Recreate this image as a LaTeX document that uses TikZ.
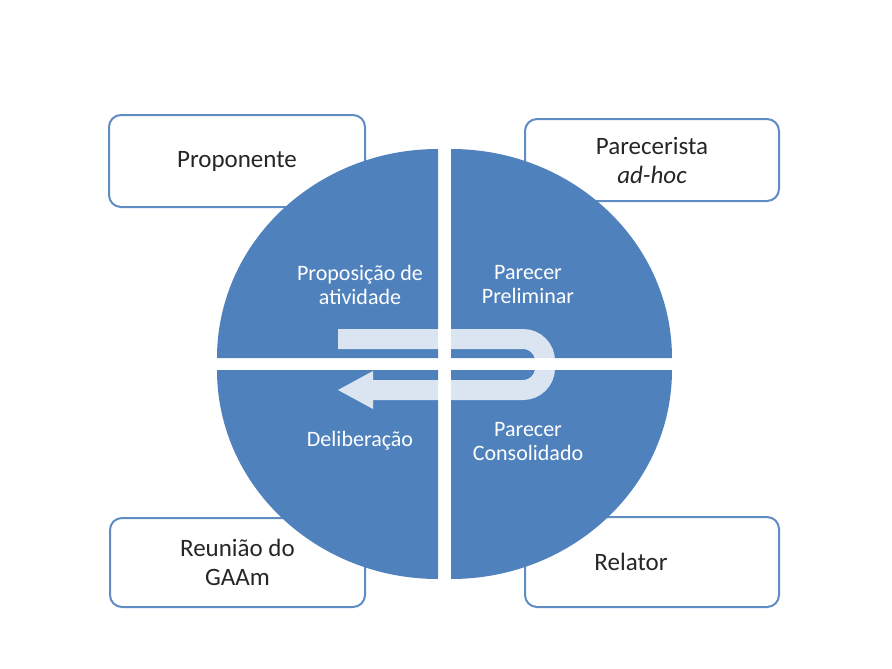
\documentclass[tikz,border=0pt]{standalone}
\usepackage{fontspec}
\setmainfont{Carlito}
\usepackage{xcolor}
\usetikzlibrary{arrows.meta}
\definecolor{quadblue}{RGB}{79,129,189}
\definecolor{boxline}{RGB}{96,140,198}

\begin{document}
\begin{tikzpicture}[
    x=1pt, y=-1pt,
    rolebox/.style={draw=boxline, line width=2pt, rounded corners=12pt, fill=white, align=center, text=black!85, font=\fontsize{25}{29}\selectfont},
    boxtext/.style={text=black!85, font=\fontsize{25}{29}\selectfont},
    quad/.style={fill=quadblue},
    quadtext/.style={text=white, align=center, font=\fontsize{22}{24}\selectfont},
    turn/.style={white, opacity=0.8}
]

\useasboundingbox (0,0) rectangle (892,669);

% Boxes :
\node[rolebox, minimum width=256pt, minimum height=92pt] (prop) at (237,161) {Proponente};
\node[rolebox, minimum width=254pt, minimum height=82pt] (parec) at (652,160) {Parecerista\\\textit{ad-hoc}};
\node[rolebox, minimum width=255pt, minimum height=89pt] (reun) at (237.5,562.5) {Reunião do\\GAAm};
\node[rolebox, minimum width=254pt, minimum height=90pt,
      label={[boxtext, xshift=-21pt]center:Relator}] (relat) at (652,562) {};

% Quadrants :
\foreach \cx/\cy/\a in {438/358/180, 451/358/270, 451/370/0, 438/370/90}
    \fill[quad] (\cx,\cy) -- ++(\a:221 and 209) arc[start angle=\a, delta angle=90, x radius=221, y radius=209] -- cycle;

% Arrow :
\draw[turn, line width=20pt, rounded corners=22pt] (338,339) -- (545,339) -- (545,390) -- (373,390);
\fill[turn] (373,371) -- (338,390) -- (373,409) -- cycle;

% Labels :
\node[quadtext] (propos) at (360,285) {Proposição de\\atividade};
\node[quadtext] (prelim) at (528,285) {Parecer\\Preliminar};
\node[quadtext] (delib) at (360,441) {Deliberação};
\node[quadtext] (consol) at (528,442) {Parecer\\Consolidado};

\end{tikzpicture}
\end{document}
